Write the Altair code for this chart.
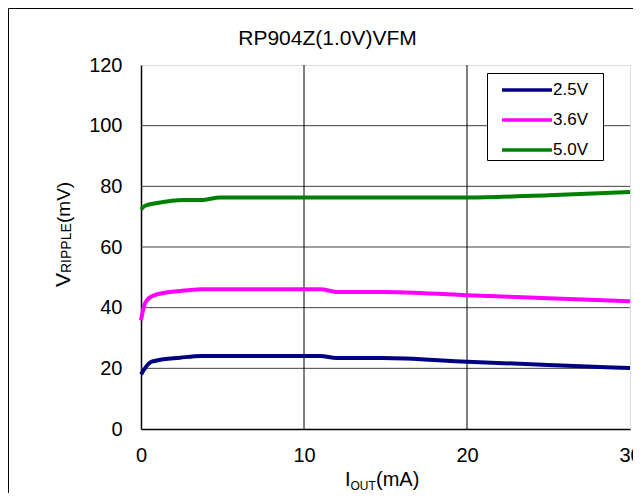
import altair as alt
import pandas as pd

series_names = ["2.5V", "3.6V", "5.0V"]
series_colors = ["#000080", "#FF00FF", "#008000"]

iout_25 = [0, 0.55, 0.9, 2.4, 3.7, 11.0, 12.0, 14.8, 20.0, 25.0, 30.0]
vrip_25 = [18.0, 21.9, 22.5, 23.5, 24.1, 24.1, 23.4, 23.4, 22.2, 21.1, 20.1]
iout_36 = [0, 0.25, 0.75, 2.4, 3.7, 11.0, 12.0, 14.8, 20.0, 25.0, 30.0]
vrip_36 = [35.8, 41.5, 44.0, 45.5, 46.1, 46.1, 45.2, 45.2, 44.1, 43.1, 42.1]
iout_50 = [0, 0.25, 1.0, 2.6, 3.7, 4.85, 10.0, 20.0, 25.0, 30.0]
vrip_50 = [72.4, 73.6, 74.5, 75.5, 75.5, 76.3, 76.3, 76.3, 77.1, 78.1]

x_ticks = [0, 10, 20, 30]
y_ticks = [0, 20, 40, 60, 80, 100, 120]
grid_x = [10, 20]
grid_y = [20, 40, 60, 80, 100]

title_text = "RP904Z(1.0V)VFM"
FONT = "Liberation Sans"

rows = []
for name, xs, ys in [("2.5V", iout_25, vrip_25), ("3.6V", iout_36, vrip_36), ("5.0V", iout_50, vrip_50)]:
    for xv, yv in zip(xs, ys):
        rows.append({"series": name, "iout": xv, "vripple": yv})
df = pd.DataFrame(rows)

W, H = 489, 364

xscale = alt.Scale(domain=[0, 30], nice=False, zero=False)
yscale = alt.Scale(domain=[0, 120], nice=False)

x_axis = alt.Axis(values=x_ticks, title=None, labelPadding=16, labelFlush=False,
                  labelFontSize=20, labelFont=FONT, labelColor="black",
                  domainColor="black", domainWidth=1.5, ticks=False, tickSize=0, grid=False)
y_axis = alt.Axis(values=y_ticks, title=None, labelPadding=19,
                  labelFontSize=20, labelFont=FONT, labelColor="black",
                  domainColor="black", domainWidth=1.5, ticks=False, tickSize=0, grid=False)

one = pd.DataFrame({"a": [0]})

gy = alt.Chart(pd.DataFrame({"v": grid_y})).mark_rule(color="#404040", strokeWidth=1).encode(
    y=alt.Y("v:Q", scale=yscale, axis=y_axis))
gx = alt.Chart(pd.DataFrame({"v": grid_x})).mark_rule(color="#000000", strokeWidth=1).encode(
    x=alt.X("v:Q", scale=xscale, axis=x_axis))

lines = alt.Chart(df).mark_line(strokeWidth=4, interpolate="monotone").encode(
    x=alt.X("iout:Q", scale=xscale, axis=x_axis),
    y=alt.Y("vripple:Q", scale=yscale, axis=y_axis),
    color=alt.Color("series:N", scale=alt.Scale(domain=series_names, range=series_colors), legend=None),
    detail="series:N",
)

layers = [gy, gx, lines]

# legend box
layers.append(alt.Chart(one).mark_rect(fill="white", stroke="black", strokeWidth=1).encode(
    x=alt.value(346.5), x2=alt.value(462.5), y=alt.value(8.5), y2=alt.value(95.5)))
for i, (name, col) in enumerate(zip(series_names, series_colors)):
    yy = 25 + 30 * i
    layers.append(alt.Chart(one).mark_rule(color=col, strokeWidth=3.5).encode(
        x=alt.value(361), x2=alt.value(411), y=alt.value(yy)))
    layers.append(alt.Chart(one).mark_text(text=name, font=FONT, fontSize=17, align="left",
                                           baseline="middle", color="black").encode(
        x=alt.value(412), y=alt.value(yy)))

# title
layers.append(alt.Chart(one).mark_text(text=title_text, font=FONT, fontSize=21, align="center",
                                       baseline="alphabetic", color="black").encode(
    x=alt.value(186.5), y=alt.value(-20)))

# x axis title I_OUT(mA)
layers.append(alt.Chart(one).mark_text(text="I", font=FONT, fontSize=20, align="left",
                                       baseline="alphabetic", color="black").encode(
    x=alt.value(204), y=alt.value(421)))
layers.append(alt.Chart(one).mark_text(text="OUT", font=FONT, fontSize=12, align="left",
                                       baseline="alphabetic", color="black").encode(
    x=alt.value(209.5), y=alt.value(425)))
layers.append(alt.Chart(one).mark_text(text="(mA)", font=FONT, fontSize=20, align="left",
                                       baseline="alphabetic", color="black").encode(
    x=alt.value(235), y=alt.value(421)))

# y axis title V_RIPPLE(mV)
layers.append(alt.Chart(one).mark_text(text="V", font=FONT, fontSize=21, align="left", angle=270,
                                       baseline="alphabetic", color="black").encode(
    x=alt.value(-71), y=alt.value(222)))
layers.append(alt.Chart(one).mark_text(text="RIPPLE", font=FONT, fontSize=14, align="left", angle=270,
                                       baseline="alphabetic", color="black").encode(
    x=alt.value(-70), y=alt.value(208)))
layers.append(alt.Chart(one).mark_text(text="(mV)", font=FONT, fontSize=19, align="left", angle=270,
                                       baseline="alphabetic", color="black").encode(
    x=alt.value(-71), y=alt.value(158)))

# outer frame
layers.append(alt.Chart(one).mark_rule(color="black", strokeWidth=1).encode(
    x=alt.value(-132.5), y=alt.value(-56.5), y2=alt.value(440)))
layers.append(alt.Chart(one).mark_rule(color="black", strokeWidth=1).encode(
    x=alt.value(-132.5), x2=alt.value(520), y=alt.value(-56.5)))

chart = alt.layer(*layers).properties(
    width=W, height=H,
    autosize=alt.AutoSizeParams(type="none"),
    padding={"left": 133, "top": 57, "right": 3, "bottom": 64},
).configure_view(stroke="#8c8c8c", strokeWidth=1.5).configure(background="white")

chart.save("out.html", embed_options={"renderer": "svg", "actions": False})
